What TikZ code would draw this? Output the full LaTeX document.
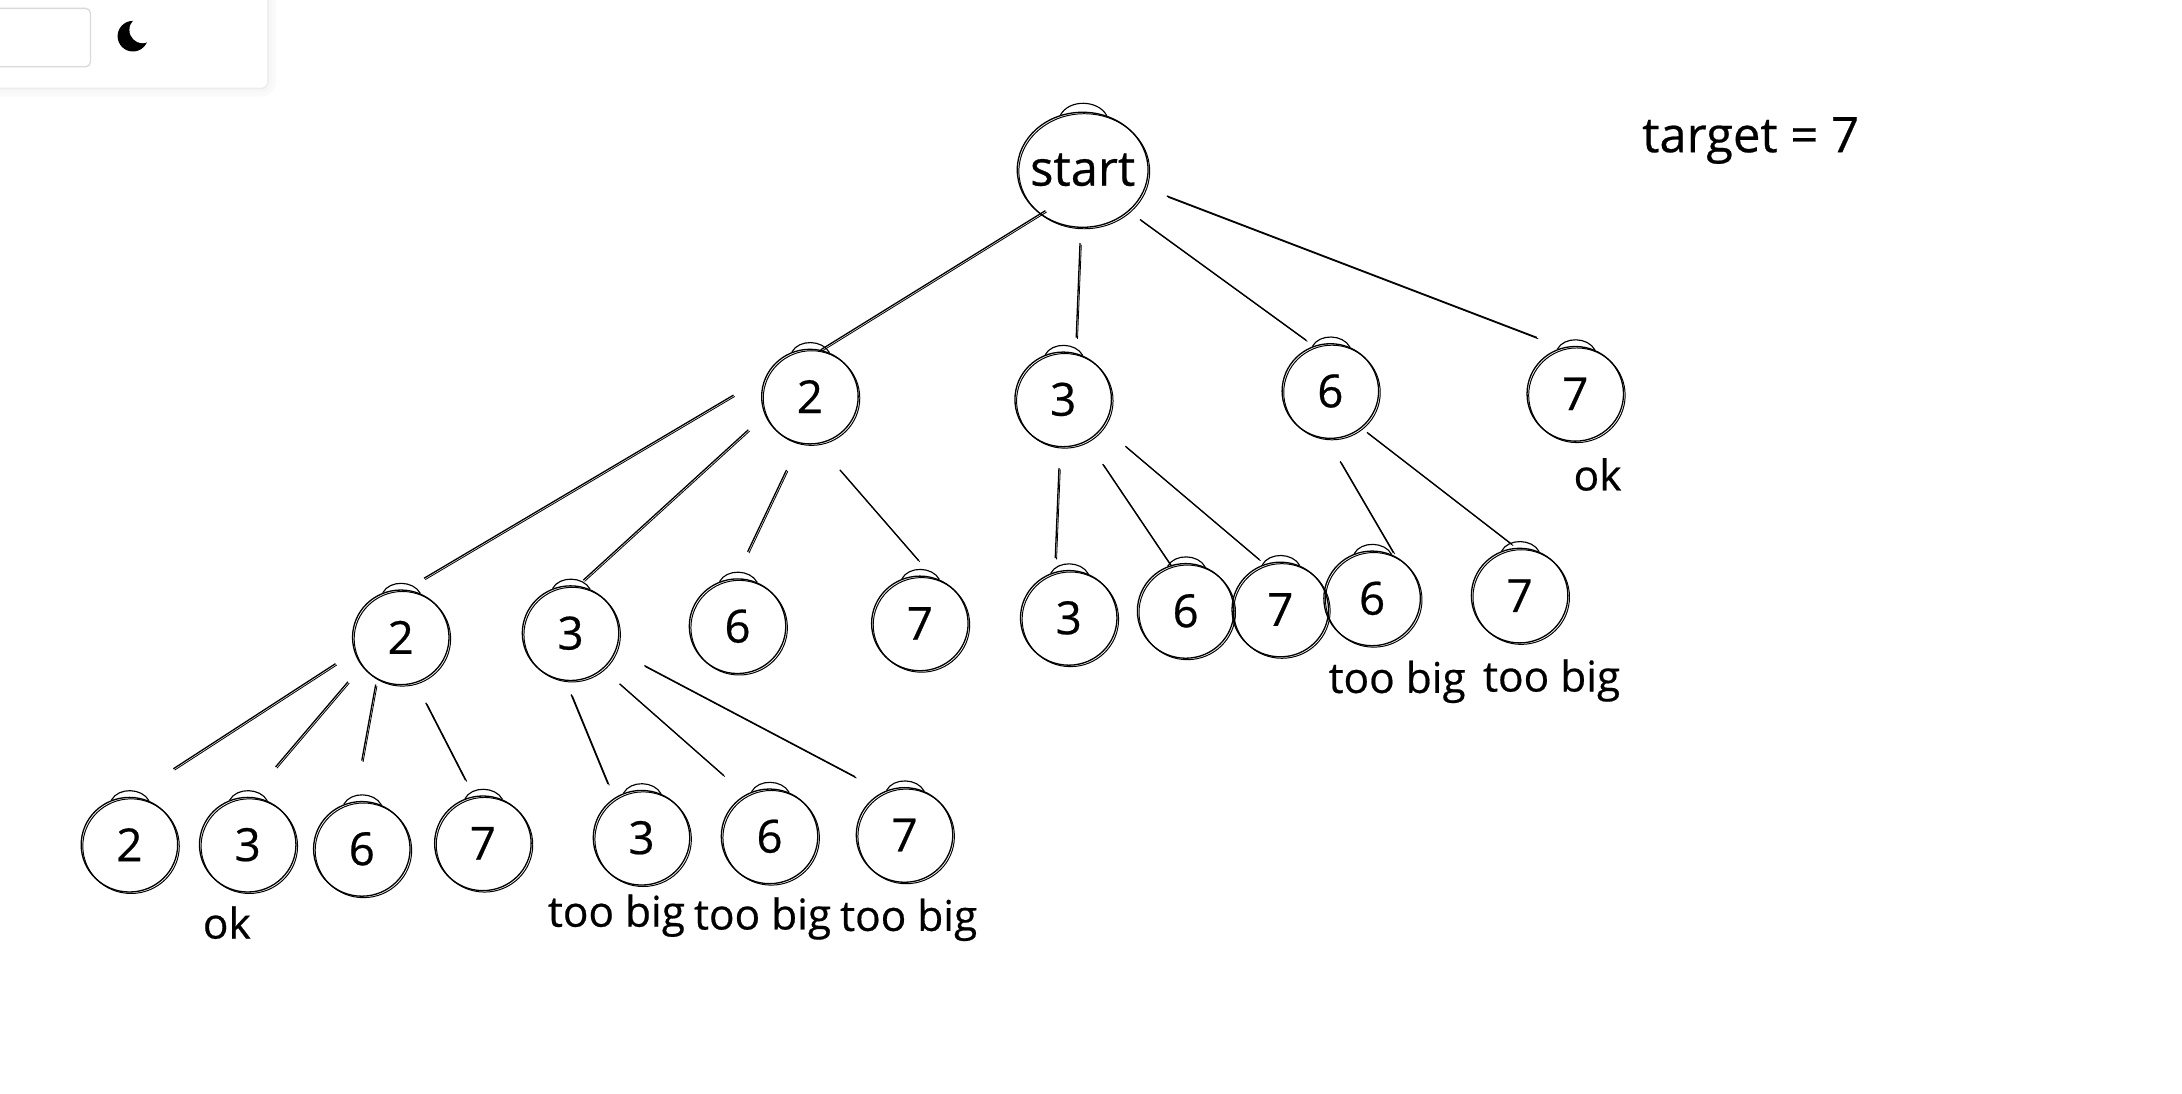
\documentclass[tikz,border=0pt]{standalone}
\usepackage{fontspec}
\setmainfont{Open Sans}[RawFeature={embolden=0.5}]
\usetikzlibrary{shapes.geometric}

\tikzset{
	sketch/.style={ellipse, draw, line width=0.8pt, inner sep=0pt,
		minimum width=2.08cm, minimum height=2.04cm, font=\fontsize{28}{32}\selectfont,
		postaction={draw, line width=0.6pt, transform canvas={shift={(1pt,-0.9pt)}}},
		append after command={(\tikzlastnode.112) edge[line width=0.7pt, out=62, in=118] (\tikzlastnode.66)}},
	link/.style={line width=0.8pt, postaction={draw, line width=0.5pt, transform canvas={shift={(0.8pt,-0.8pt)}}}},
	note/.style={font=\fontsize{26}{30}\selectfont, inner sep=0pt},
}

\begin{document}
\begin{tikzpicture}[x=0.03cm,y=-0.03cm]
	\useasboundingbox (0,0) rectangle (1568,786);

	% settings panel in the corner
	\draw[black!2, line width=11pt, rounded corners=4pt] (-20,-20) rectangle (192,63);
	\draw[black!3, line width=6pt, rounded corners=4pt] (-20,-20) rectangle (192,63);
	\draw[black!7, line width=2pt, rounded corners=4pt] (-20,-20) rectangle (192,63);
	\fill[white, rounded corners=4pt] (-20,-20) rectangle (192,63);
	\draw[black!15, line width=0.8pt, rounded corners=3pt] (-20,6) rectangle (65,48);
	\fill (95.5,26) circle (11);
	\fill[white] (102.5,21.5) circle (9.5);

	\node[sketch, minimum width=2.82cm, minimum height=2.48cm, inner xsep=-8pt, font=\fontsize{30}{34}\selectfont] (start) at (778,122) {start};

	\node[sketch] (n2) at (582,285) {2};
	\node[sketch] (n3) at (764,287) {3};
	\node[sketch] (n6) at (956,281) {6};
	\node[sketch] (n7) at (1132,283) {7};

	\node[sketch] (a2) at (288,458) {2};
	\node[sketch] (a3) at (410,455) {3};
	\node[sketch] (a6) at (530,450) {6};
	\node[sketch] (a7) at (661,448) {7};
	\node[sketch] (b3) at (768,444) {3};
	\node[sketch] (b6) at (852,439) {6};
	\node[sketch] (b7) at (920,438) {7};
	\node[sketch] (c6) at (986,430) {6};
	\node[sketch] (c7) at (1092,428) {7};

	\node[sketch] (d2) at (93,607) {2};
	\node[sketch] (d3) at (178,607) {3};
	\node[sketch] (d6) at (260,610) {6};
	\node[sketch] (d7) at (347,606) {7};
	\node[sketch] (e3) at (461,602) {3};
	\node[sketch] (e6) at (553,601) {6};
	\node[sketch] (e7) at (650,600) {7};

	\node[note, font=\fontsize{30}{34}\selectfont] (target) at (1258,101) {target = 7};
	\node[note] (ok1) at (1148,341) {ok};
	\node[note] (ok2) at (163,663) {ok};
	\node[note] (big1) at (1004,490) {too big};
	\node[note] (big2) at (1115,489) {too big};
	\node[note] (big3) at (443,658) {too big};
	\node[note] (big4) at (548,660) {too big};
	\node[note] (big5) at (653,661) {too big};

	\draw[link, shorten <=-4pt] (start.226)--(n2.77);
	\draw[link, shorten <=9.4pt, shorten >=9.4pt] (start.268)--(n3.75);
	\draw[link, shorten <=8.5pt, shorten >=6pt] (start.318)--(n6.110);
	\draw[link, shorten <=14pt, shorten >=17pt] (start.344)--(n7.105);

	\draw[link, shorten <=23pt, shorten >=13.6pt] (n2.155)--(a2.85);
	\draw[link, shorten <=13.6pt, shorten >=5pt] (n2.202)--(a3.82);
	\draw[link, shorten <=18pt, shorten >=18pt] (n2.257)--(a6.93);
	\draw[link, shorten <=21pt, shorten >=13.6pt] (n2.279)--(a7.74);

	\draw[link, shorten <=12.8pt, shorten >=8.5pt] (n3.266)--(b3.107);
	\draw[link, shorten <=17pt] (n3.300)--(b6.108);
	\draw[link, shorten <=18pt, shorten >=4.3pt] (n3.325)--(b7.109);

	\draw[link, shorten <=16pt, shorten >=2.5pt] (n6.266)--(c6.61);
	\draw[link, shorten <=4.3pt, shorten >=3.4pt] (n6.310)--(c7.94);

	\draw[link, shorten <=13.6pt, shorten >=31.5pt] (a2.197)--(d2.89);
	\draw[link, shorten <=12.8pt, shorten >=24pt] (a2.216)--(d3.87);
	\draw[link, shorten <=3.4pt, shorten >=25.5pt] (a2.240)--(d6.99);
	\draw[link, shorten <=13.6pt, shorten >=11pt] (a2.288)--(d7.101);

	\draw[link, shorten <=9pt, shorten >=9.4pt] (a3.264)--(e3.125);
	\draw[link, shorten <=13.6pt, shorten >=18pt] (a3.312)--(e6.120);
	\draw[link, shorten <=19.6pt, shorten >=19.6pt] (a3.339)--(e7.116);
\end{tikzpicture}
\end{document}
